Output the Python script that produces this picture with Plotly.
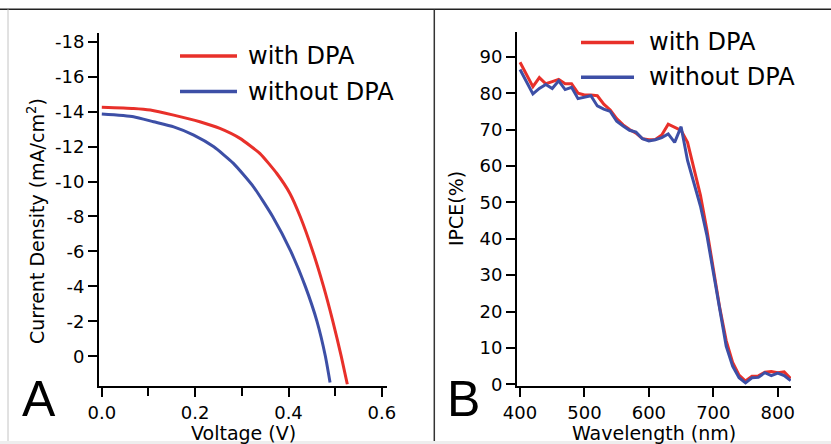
import plotly.graph_objects as go

# ---------------- data ----------------
series_names = ["with DPA", "without DPA"]

# Panel A: J-V curves
v_with = [0.0, 0.068, 0.104, 0.154, 0.21, 0.253, 0.296, 0.339, 0.375, 0.403, 0.425,
          0.452, 0.475, 0.495, 0.513, 0.526]
j_with = [-14.25, -14.18, -14.09, -13.8, -13.42, -13.04, -12.47, -11.6, -10.46, -9.32, -8.0,
          -6.0, -4.0, -2.0, 0.0, 1.6]
v_without = [0.0, 0.068, 0.111, 0.154, 0.197, 0.24, 0.282, 0.325, 0.366,
             0.405, 0.436, 0.461, 0.479, 0.489]
j_without = [-13.86, -13.71, -13.42, -13.13, -12.66, -11.99, -11.04, -9.7, -8.0,
             -6.0, -4.0, -2.0, 0.0, 1.5]

# Panel B: IPCE spectra
wavelength = list(range(400, 821, 10))
ipce_with = [88.5, 85.0, 81.8, 84.3, 82.6, 83.2, 83.8, 82.6, 82.6, 80.0,
             79.5, 79.5, 79.3, 77.0, 75.4, 73.0, 71.3, 70.0, 69.0, 67.5,
             67.2, 67.3, 68.5, 71.5, 70.6, 69.8, 66.5, 59.5, 52.0, 42.5,
             32.0, 21.0, 12.0, 6.0, 2.5, 0.9, 2.2, 2.3, 3.3, 3.5,
             3.2, 3.4, 1.6]
ipce_without = [86.5, 83.0, 79.8, 81.3, 82.4, 81.3, 83.4, 81.0, 81.6, 78.5,
                78.8, 79.3, 76.5, 75.6, 75.0, 72.3, 71.0, 69.8, 69.3, 67.5,
                66.9, 67.2, 67.8, 68.8, 66.5, 70.8, 61.5, 55.5, 49.0, 41.0,
                31.0, 20.0, 10.5, 5.0, 1.8, 0.4, 1.8, 1.9, 3.2, 2.4,
                3.1, 2.4, 1.0]

jv_tickvals = [-18, -16, -14, -12, -10, -8, -6, -4, -2, 0]
jv_ticktext = ["-18", "-16", "-14", "-12", "-10", "-8", "-6", "-4", "-2", "0"]
v_tickvals = [0.0, 0.2, 0.4, 0.6]
v_ticktext = ["0.0", "0.2", "0.4", "0.6"]
v_minor_tickvals = [0.1, 0.3, 0.5]
ipce_tickvals = [0, 10, 20, 30, 40, 50, 60, 70, 80, 90]
wl_tickvals = [400, 500, 600, 700, 800]

# ---------------- style ----------------
W, H = 831, 444
RED = "#e8302a"
BLUE = "#3d4fa6"
FONT = "DejaVu Sans"


def px(x):
    return x / W


def py(y):
    return 1 - y / H


fig = go.Figure()
fig.add_trace(go.Scatter(x=v_with, y=j_with, mode="lines", name=series_names[0],
                         line=dict(color=RED, width=3, shape="spline", smoothing=0.5),
                         xaxis="x", yaxis="y", showlegend=False))
fig.add_trace(go.Scatter(x=v_without, y=j_without, mode="lines", name=series_names[1],
                         line=dict(color=BLUE, width=3, shape="spline", smoothing=0.5),
                         xaxis="x", yaxis="y", showlegend=False))
fig.add_trace(go.Scatter(x=wavelength, y=ipce_with, mode="lines", name=series_names[0],
                         line=dict(color=RED, width=3),
                         xaxis="x2", yaxis="y2", showlegend=False))
fig.add_trace(go.Scatter(x=wavelength, y=ipce_without, mode="lines", name=series_names[1],
                         line=dict(color=BLUE, width=3),
                         xaxis="x2", yaxis="y2", showlegend=False))

axis_common = dict(showgrid=False, zeroline=False, showline=True, linecolor="black",
                   linewidth=2, ticks="outside", ticklen=9, tickwidth=2, tickcolor="black",
                   tickfont=dict(family=FONT, size=18, color="black"), automargin=False)

fig.update_layout(
    width=W, height=H,
    margin=dict(l=0, r=0, t=0, b=0, autoexpand=False),
    paper_bgcolor="white", plot_bgcolor="white",
    xaxis=dict(domain=[px(99), px(387)], range=[-0.006, 0.611], anchor="y",
               tickvals=v_tickvals, ticktext=v_ticktext,
               minor=dict(tickvals=v_minor_tickvals, ticks="outside", ticklen=8,
                          tickwidth=2, tickcolor="black", showgrid=False),
               **axis_common),
    yaxis=dict(domain=[py(386), py(33)], range=[1.7, -18.5], anchor="x",
               tickvals=jv_tickvals, ticktext=jv_ticktext, **axis_common),
    xaxis2=dict(domain=[px(517), px(791)], range=[395.3, 820.6], anchor="y2",
                tickvals=wl_tickvals, **axis_common),
    yaxis2=dict(domain=[py(386), py(31.7)], range=[-0.47, 96.9], anchor="x2",
                tickvals=ipce_tickvals, **axis_common),
    showlegend=False,
)

shapes = []
# frame lines
shapes.append(dict(type="line", xref="paper", yref="paper", x0=0, x1=1, y0=py(9.3), y1=py(9.3),
                   line=dict(color="#222222", width=1.5)))
shapes.append(dict(type="line", xref="paper", yref="paper", x0=px(8), x1=px(8), y0=0, y1=py(9.3),
                   line=dict(color="#c4c4c4", width=1)))
shapes.append(dict(type="line", xref="paper", yref="paper", x0=px(434.3), x1=px(434.3), y0=0, y1=py(9.3),
                   line=dict(color="#333333", width=1.5)))
shapes.append(dict(type="rect", xref="paper", yref="paper", x0=0, x1=1, y0=0, y1=py(441),
                   fillcolor="#eeeeee", line=dict(width=0), layer="above"))

annotations = []
# manual legends
legend_specs = [
    # (sample x0, sample x1, row y positions, text x)
    (180, 237, [56, 91.5], 246),
    (581, 634, [42.5, 77.3], 647),
]
for x0, x1, rows, tx in legend_specs:
    for name, color, yy in zip(series_names, [RED, BLUE], rows):
        shapes.append(dict(type="line", xref="paper", yref="paper", x0=px(x0), x1=px(x1),
                           y0=py(yy), y1=py(yy), line=dict(color=color, width=3.5)))
        annotations.append(dict(text=name, xref="paper", yref="paper", x=px(tx), y=py(yy),
                                xanchor="left", yanchor="middle", showarrow=False,
                                font=dict(family=FONT, size=24, color="black")))

# axis titles
annotations.append(dict(text="Voltage (V)", xref="paper", yref="paper", x=px(243), y=py(433),
                        xanchor="center", yanchor="middle", showarrow=False,
                        font=dict(family=FONT, size=19, color="black")))
annotations.append(dict(text="Wavelength (nm)", xref="paper", yref="paper", x=px(654), y=py(433),
                        xanchor="center", yanchor="middle", showarrow=False,
                        font=dict(family=FONT, size=19, color="black")))
annotations.append(dict(text="Current Density (mA/cm<sup>2</sup>)", xref="paper", yref="paper",
                        x=px(36), y=py(221), xanchor="center", yanchor="middle", textangle=-90,
                        showarrow=False, font=dict(family=FONT, size=19, color="black")))
annotations.append(dict(text="IPCE(%)", xref="paper", yref="paper",
                        x=px(456), y=py(209), xanchor="center", yanchor="middle", textangle=-90,
                        showarrow=False, font=dict(family=FONT, size=19, color="black")))
# panel letters
annotations.append(dict(text="A", xref="paper", yref="paper", x=px(39), y=py(399),
                        xanchor="center", yanchor="middle", showarrow=False,
                        font=dict(family="Liberation Sans", size=50, color="black")))
annotations.append(dict(text="B", xref="paper", yref="paper", x=px(463), y=py(399),
                        xanchor="center", yanchor="middle", showarrow=False,
                        font=dict(family="Liberation Sans", size=50, color="black")))

fig.update_layout(shapes=shapes, annotations=annotations)
fig.write_html("out.html", config={"displayModeBar": False},
               post_script="document.body.style.margin='0';")
